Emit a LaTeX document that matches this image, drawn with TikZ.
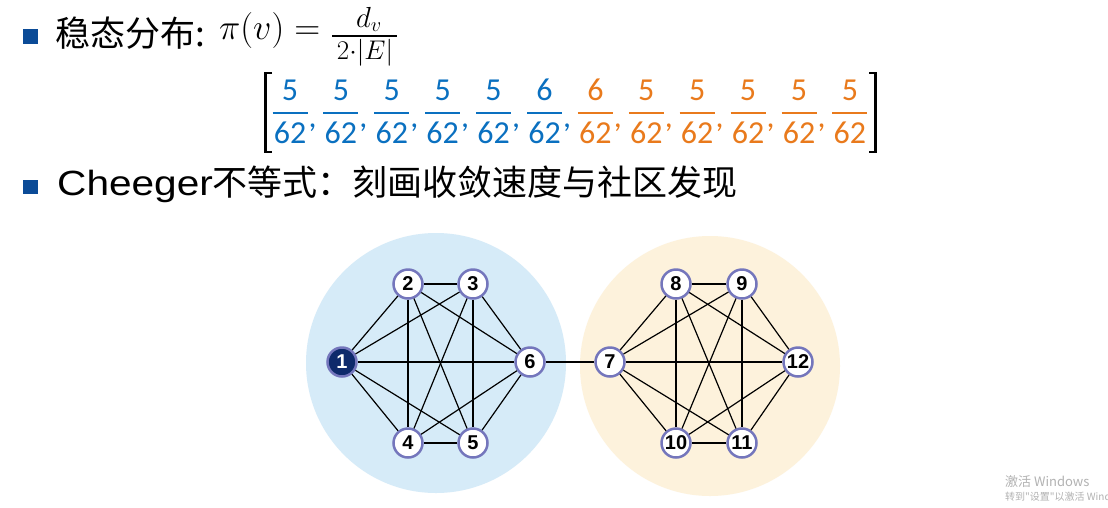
\documentclass[tikz,border=0pt]{standalone}
\usepackage{fix-cm}
\usepackage[no-math]{fontspec}
\usepackage{graphicx}
\newfontfamily\cjk{Noto Sans CJK SC}
\newfontfamily\arialf{Liberation Sans}
\newfontfamily\carl{Carlito}
\definecolor{bulletc}{HTML}{0B4B97}
\definecolor{fb}{HTML}{0A70C0}
\definecolor{fo}{HTML}{E97A1C}
\definecolor{bgblue}{HTML}{D6EBF8}
\definecolor{bgorange}{HTML}{FDF2DC}
\definecolor{nodeborder}{HTML}{7476BC}
\definecolor{navy}{HTML}{0E2A6B}
\tikzset{
  gn/.style={circle, draw=nodeborder, line width=2.5pt, fill=white, minimum size=29pt, inner sep=0pt,
             font=\arialf\bfseries\fontsize{20}{20}\selectfont},
  edge/.style={draw=black, line width=1.2pt},
  fracnum/.style={anchor=base, inner sep=0pt, font=\carl\fontsize{32}{32}\selectfont},
}
\begin{document}
\begin{tikzpicture}[x=1pt,y=-1pt]
\useasboundingbox (0,0) rectangle (1108,507);
\fill[white] (0,0) rectangle (1108,507);

% first bullet line
\fill[bulletc] (23,29) rectangle (38,44);
\node[anchor=base west, inner sep=0pt, font=\cjk\fontsize{35}{35}\selectfont] (t1) at (55,46) {稳态分布:};
\node[anchor=base west, inner sep=0pt, font=\fontsize{36}{36}\selectfont] (pi) at (219,39) {$\pi(v) =$};
\draw[line width=1.5pt] (332,36) -- (397,36);
\node[anchor=base, inner sep=0pt, font=\fontsize{29}{29}\selectfont] (num) at (369,27) {$d_v$};
\node[anchor=base, inner sep=0pt, font=\fontsize{27}{27}\selectfont] (den) at (365,59) {$2{\cdot}|E|$};

% fractions row
\draw[line width=2.6pt] (272,73) -- (265.5,73) -- (265.5,152) -- (272,152);
\draw[line width=2.6pt] (869,73) -- (875.5,73) -- (875.5,152) -- (869,152);
\foreach \k/\n/\c in {0/5/fb,1/5/fb,2/5/fb,3/5/fb,4/5/fb,5/6/fb,6/6/fo,7/5/fo,8/5/fo,9/5/fo,10/5/fo,11/5/fo} {
  \pgfmathsetmacro\xx{290+50.9*\k}
  \node[fracnum, text=\c] (n\k) at (\xx,100) {\n};
  \draw[\c, line width=1.8pt] (\xx-17.5,113) -- (\xx+17.5,113);
  \node[fracnum, text=\c] (d\k) at (\xx,143) {62};
}
\foreach \k/\c in {0/fb,1/fb,2/fb,3/fb,4/fb,5/fb,6/fo,7/fo,8/fo,9/fo,10/fo} {
  \pgfmathsetmacro\xx{290+50.9*\k+22.5}
  \node[fracnum, text=\c] (c\k) at (\xx,127) {,};
}

% second bullet line
\fill[bulletc] (23,180) rectangle (38,194);
\node[anchor=base west, inner sep=0pt, font=\fontsize{35}{35}\selectfont] (t2) at (57,195)
  {{\arialf\scalebox{1.16}[1]{Cheeger}}{\cjk 不等式：刻画收敛速度与社区发现}};

% background communities
\fill[bgblue] (436,363) circle[radius=130];
\fill[bgorange] (710,366) circle[radius=130];

% nodes
\node[gn, fill=navy, text=white] (v1) at (342,362) {1};
\node[gn] (v2) at (408,284) {2};
\node[gn] (v3) at (473,284) {3};
\node[gn] (v4) at (408,443) {4};
\node[gn] (v5) at (473,443) {5};
\node[gn] (v6) at (530,362) {6};
\node[gn] (v7) at (610,362) {7};
\node[gn] (v8) at (676,284) {8};
\node[gn] (v9) at (742,284) {9};
\node[gn] (v10) at (676,443) {10};
\node[gn] (v11) at (742,443) {11};
\node[gn] (v12) at (798,362) {12};

% edges
\foreach \a/\b in {1/2,1/3,1/4,1/5,1/6,2/3,2/4,2/5,2/6,3/4,3/5,3/6,4/5,4/6,5/6,6/7,
                   7/8,7/9,7/10,7/11,7/12,8/9,8/10,8/11,8/12,9/10,9/11,9/12,10/11,10/12,11/12}
  \draw[edge] (v\a) -- (v\b);

% watermark
\node[anchor=base west, inner sep=0pt, text=black!30, font=\cjk\fontsize{13}{13}\selectfont] (w1) at (1005,486) {激活 Windows};
\node[anchor=base west, inner sep=0pt, text=black!30, font=\cjk\fontsize{10}{10}\selectfont] (w2) at (1005,500) {转到"设置"以激活 Windows};
\end{tikzpicture}
\end{document}
